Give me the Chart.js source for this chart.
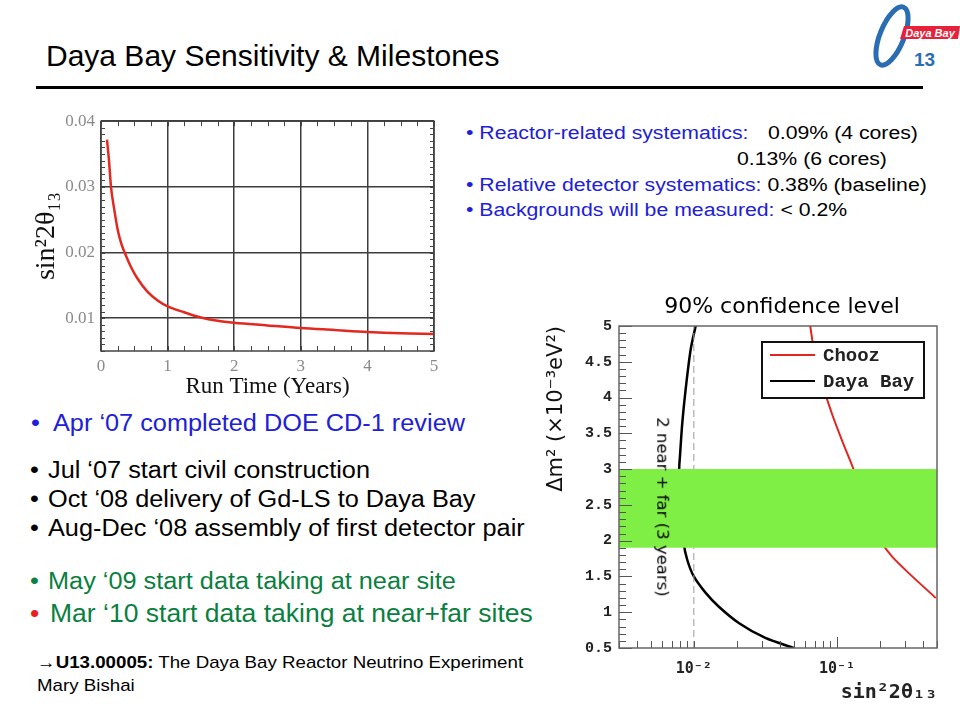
<!DOCTYPE html>
<html>
<head>
<meta charset="utf-8">
<title>Daya Bay Sensitivity &amp; Milestones</title>
<script src="https://cdn.jsdelivr.net/npm/chart.js@4.4.0/dist/chart.umd.min.js"></script>
<style>
  html, body { margin: 0; padding: 0; background: #fff; }
  body { width: 960px; height: 720px; position: relative; overflow: hidden;
         font-family: "Liberation Sans", Arial, sans-serif; color: #000; }
  .t { position: absolute; white-space: nowrap; line-height: 1; transform-origin: 0 0; }
  .sys { font-size: 18px; transform: scaleX(1.18); }
  .ms  { font-size: 23px; transform: scaleX(1.1); }
  .ms-big { font-size: 26px; transform: scaleX(1.02); }
  .ref { font-size: 17px; transform: scaleX(1.1); }
  .blue { color: #2020d8; }
  .green { color: #0a7f3f; }
  .rule { position: absolute; left: 36px; top: 86px; width: 887px; height: 3px; background: #000; }
  .box { position: absolute; }
  #cl-title { font-family: "DejaVu Sans", sans-serif; font-size: 22px; }
  #dyb-note { font-family: "DejaVu Sans", sans-serif; font-size: 16.5px; transform-origin: 50% 50%; }
</style>
</head>
<body>

<!-- title and rule -->
<div class="t" style="left:46px; top:41px; font-size:30px;">Daya Bay Sensitivity &amp; Milestones</div>
<div class="rule"></div>

<!-- logo -->
<svg class="box" style="left:860px; top:0px;" width="100" height="90" viewBox="0 0 100 90">
  <ellipse cx="32" cy="36" rx="12" ry="31" transform="rotate(22 32 36)" fill="none" stroke="#2a6db3" stroke-width="5"/>
  <polygon points="44,26 100,26 98,39 40,39" fill="#e8213a"/>
  <text x="70" y="36.5" text-anchor="middle" font-family="Liberation Sans" font-style="italic" font-weight="bold" font-size="11" fill="#fff">Daya Bay</text>
  <text x="54" y="66" font-family="Liberation Sans" font-weight="bold" font-size="19" fill="#2a6db3">13</text>
</svg>

<!-- systematics text -->
<div class="t sys blue" style="left:466px; top:124px;">• Reactor-related systematics:</div>
<div class="t sys" style="left:768px; top:124px;">0.09% (4 cores)</div>
<div class="t sys" style="left:737px; top:150px;">0.13% (6 cores)</div>
<div class="t sys" style="left:466px; top:176px;"><span class="blue">• Relative detector systematics:</span> 0.38% (baseline)</div>
<div class="t sys" style="left:466px; top:201px;"><span class="blue">• Backgrounds will be measured:</span> &lt; 0.2%</div>

<!-- milestones -->
<div class="t ms blue" style="left:31px; top:412px;">•</div>
<div class="t ms blue" style="left:53px; top:412px;">Apr ‘07 completed DOE CD-1 review</div>
<div class="t ms" style="left:30px; top:459px;">•</div>
<div class="t ms" style="left:48px; top:459px;">Jul ‘07 start civil construction</div>
<div class="t ms" style="left:30px; top:488px;">•</div>
<div class="t ms" style="left:48px; top:488px;">Oct ‘08 delivery of Gd-LS to Daya Bay</div>
<div class="t ms" style="left:30px; top:517px;">•</div>
<div class="t ms" style="left:48px; top:517px;">Aug-Dec ‘08 assembly of first detector pair</div>
<div class="t ms green" style="left:30px; top:570px;">•</div>
<div class="t ms green" style="left:48px; top:570px;">May ‘09 start data taking at near site</div>
<div class="t ms-big" style="left:30px; top:600px; color:#e82020;">•</div>
<div class="t ms-big green" style="left:50px; top:600px;">Mar ‘10 start data taking at near+far sites</div>

<div class="t ref" style="left:37px; top:654px;">→<b>U13.00005:</b> The Daya Bay Reactor Neutrino Experiment</div>
<div class="t ref" style="left:37px; top:677px;">Mary Bishai</div>

<!-- charts -->
<div class="box" style="left:20px; top:105px; width:425px; height:300px;">
  <canvas id="sensChart" width="425" height="300"></canvas>
</div>
<div class="box" style="left:540px; top:290px; width:420px; height:430px;">
  <canvas id="exclChart" width="420" height="430"></canvas>
</div>
<div class="t" id="cl-title" style="left:782px; top:306px; transform:translate(-50%,-50%);">90% confidence level</div>
<div class="t" id="dyb-note" style="left:662px; top:507px; transform:translate(-50%,-50%) rotate(90deg);">2 near + far (3 years)</div>

<script>
/**
 * Daya Bay sensitivity slide
 * left: sin^2(2theta13) reach vs run time, right: 90% CL exclusion contours
 */

// sensitivity vs run time
const runYears  = [0.09, 0.12, 0.15, 0.2, 0.25, 0.3, 0.355, 0.45, 0.55, 0.7, 0.85, 1.0, 1.25, 1.5, 1.75, 2.0, 2.5, 3.0, 3.5, 4.0, 4.5, 5.0];
const sensLimit = [0.0372, 0.034, 0.030, 0.0265, 0.0235, 0.0215, 0.020, 0.0178, 0.0160, 0.0140, 0.0127, 0.0118, 0.0109, 0.0101, 0.0096, 0.0093, 0.0089, 0.0085, 0.0082, 0.0079, 0.0077, 0.0076];
const runTicks  = [0, 1, 2, 3, 4, 5];
const sensTicks = [0.01, 0.02, 0.03, 0.04];

// 90% CL contours (sin^2 2theta13 , dm^2 in 1e-3 eV^2)
const dybSin2   = [0.0103, 0.0095, 0.00875, 0.0083, 0.0080, 0.0079, 0.0082, 0.0085, 0.0090, 0.0100, 0.0121, 0.0149, 0.0206, 0.0316, 0.050];
const dybDm2    = [5.0, 4.67, 4.10, 3.64, 3.18, 2.99, 2.48, 1.97, 1.73, 1.50, 1.27, 1.08, 0.85, 0.64, 0.50];
const choozSin2 = [0.065, 0.0725, 0.092, 0.108, 0.131, 0.149, 0.171, 0.206, 0.242, 0.316, 0.49];
const choozDm2  = [5.0, 4.43, 3.78, 3.41, 2.99, 2.62, 2.29, 1.97, 1.78, 1.55, 1.20];
const seriesLabels = ['Chooz', 'Daya Bay'];
const dm2Band   = [1.9, 3.0];          // allowed dm^2 region (green)
const refSin2   = 0.01;                // dashed guide line
const dm2Ticks  = [0.5, 1, 1.5, 2, 2.5, 3, 3.5, 4, 4.5, 5];
const sinTicks  = [0.003, 0.004, 0.005, 0.006, 0.007, 0.008, 0.009, 0.01, 0.02, 0.03, 0.04, 0.05, 0.06, 0.07, 0.08, 0.09, 0.1, 0.2, 0.3, 0.4, 0.5];
const sinLabels = { 0.01: '10⁻²', 0.1: '10⁻¹' };

const SIN_MIN = 0.003, SIN_MAX = 0.5;

// small helper: pair two arrays into {x,y} points
function toPoints(xs, ys) {
    return xs.map((x, i) => ({ x: x, y: ys[i] }));
}

// list of values between a and b with given step (for minor tick marks)
function stepList(a, b, step) {
    const out = [];
    for (let v = a; v <= b + 1e-9; v += step) out.push(+v.toFixed(6));
    return out;
}

/**
 * draws the inward tick marks and the frame round the plot area
 */
const innerTicksPlugin = {
    id: 'innerTicks',
    afterDatasetsDraw(chart, args, opts) {
        const { ctx, chartArea: a, scales } = chart;
        ctx.save();
        ctx.strokeStyle = opts.color;
        ctx.lineWidth = opts.width;
        ctx.beginPath();
        (opts.x || []).forEach(set => set.values.forEach(v => {
            const px = Math.round(scales.x.getPixelForValue(v)) + 0.5;
            ctx.moveTo(px, a.bottom);
            ctx.lineTo(px, a.bottom - set.len);
            if (opts.mirror) {
                ctx.moveTo(px, a.top);
                ctx.lineTo(px, a.top + set.len);
            }
        }));
        (opts.y || []).forEach(set => set.values.forEach(v => {
            const py = Math.round(scales.y.getPixelForValue(v)) + 0.5;
            ctx.moveTo(a.left, py);
            ctx.lineTo(a.left + set.len, py);
            if (opts.mirror) {
                ctx.moveTo(a.right, py);
                ctx.lineTo(a.right - set.len, py);
            }
        }));
        ctx.stroke();
        ctx.strokeStyle = opts.frameColor;
        ctx.lineWidth = opts.frameWidth;
        ctx.strokeRect(a.left, a.top, a.right - a.left, a.bottom - a.top);
        ctx.restore();
    }
};

/**
 * boxed legend inside the plot area (top right)
 */
const boxLegendPlugin = {
    id: 'boxLegend',
    afterDatasetsDraw(chart, args, opts) {
        const { ctx, chartArea: a } = chart;
        const x0 = a.right - opts.right - opts.width;
        const y0 = a.top + opts.top;
        ctx.save();
        ctx.fillStyle = '#fff';
        ctx.fillRect(x0, y0, opts.width, opts.height);
        ctx.strokeStyle = '#111';
        ctx.lineWidth = 2;
        ctx.strokeRect(x0, y0, opts.width, opts.height);
        const items = chart.data.datasets.filter(d => d.inLegend);
        items.forEach((d, i) => {
            const y = y0 + opts.rowTop + i * opts.rowGap;
            ctx.strokeStyle = d.borderColor;
            ctx.lineWidth = 2;
            ctx.beginPath();
            ctx.moveTo(x0 + 8, y);
            ctx.lineTo(x0 + 53, y);
            ctx.stroke();
            ctx.fillStyle = '#222';
            ctx.font = 'bold 19px "Liberation Mono", "DejaVu Sans Mono", monospace';
            ctx.textBaseline = 'middle';
            ctx.fillText(d.label, x0 + 61, y + 1);
        });
        ctx.restore();
    }
};

/**
 * left chart: sensitivity vs run time
 */
function initSensitivityChart() {
    const ctx = document.getElementById('sensChart');
    const serif = '"Liberation Serif", "Times New Roman", serif';

    new Chart(ctx, {
        type: 'line',
        data: {
            datasets: [{
                data: toPoints(runYears, sensLimit),
                borderColor: '#e3281f',
                borderWidth: 2.5,
                pointRadius: 0,
                cubicInterpolationMode: 'monotone',
                fill: false
            }]
        },
        options: {
            responsive: false,
            animation: false,
            layout: { padding: { top: 12, right: 11, left: 0, bottom: 0 } },
            plugins: {
                legend: { display: false },
                tooltip: { enabled: false },
                innerTicks: {
                    color: '#444', width: 1, mirror: true,
                    frameColor: '#444', frameWidth: 1.5,
                    x: [{ values: stepList(0, 5, 0.25), len: 5 }],
                    y: [{ values: stepList(0.005, 0.04, 0.001), len: 4 }]
                }
            },
            scales: {
                x: {
                    type: 'linear', min: 0, max: 5,
                    afterBuildTicks: s => { s.ticks = runTicks.map(v => ({ value: v })); },
                    afterFit: s => { s.height = 54; },
                    grid: { color: '#3c3c3c', lineWidth: 1.5, drawTicks: false },
                    border: { display: false },
                    ticks: { color: '#8a8a8a', padding: 5, font: { family: serif, size: 17 } },
                    title: {
                        display: true, text: 'Run Time (Years)', color: '#111',
                        padding: { top: 0, bottom: 4 },
                        font: { family: serif, size: 23 }
                    }
                },
                y: {
                    type: 'linear', min: 0.005, max: 0.04,
                    afterBuildTicks: s => { s.ticks = sensTicks.map(v => ({ value: v })); },
                    afterFit: s => { s.width = 81; },
                    grid: { color: '#3c3c3c', lineWidth: 1.5, drawTicks: false },
                    border: { display: false },
                    ticks: {
                        color: '#8a8a8a', padding: 6,
                        font: { family: serif, size: 17 },
                        callback: v => v.toFixed(2)
                    },
                    title: {
                        display: true, text: 'sin²2θ₁₃', color: '#111',
                        padding: { top: 10, bottom: 0 },
                        font: { family: serif, size: 28 }
                    }
                }
            }
        },
        plugins: [innerTicksPlugin]
    });
}

/**
 * right chart: 90% CL exclusion contours
 */
function initExclusionChart() {
    const ctx = document.getElementById('exclChart');
    const mono = '"Liberation Mono", "DejaVu Sans Mono", monospace';

    new Chart(ctx, {
        type: 'line',
        data: {
            datasets: [
                {   // green band top edge, filled down to the next dataset
                    data: toPoints([SIN_MIN, SIN_MAX], [dm2Band[1], dm2Band[1]]),
                    borderWidth: 0, pointRadius: 0,
                    backgroundColor: '#80ef45', fill: '+1'
                },
                {
                    data: toPoints([SIN_MIN, SIN_MAX], [dm2Band[0], dm2Band[0]]),
                    borderWidth: 0, pointRadius: 0, fill: false
                },
                {   // dashed guide at sin^2 = 0.01
                    data: toPoints([refSin2, refSin2], [0.5, 5]),
                    borderColor: '#9a9a9a', borderWidth: 1, borderDash: [7, 4],
                    pointRadius: 0, fill: false
                },
                {
                    label: seriesLabels[0], inLegend: true,
                    data: toPoints(choozSin2, choozDm2),
                    borderColor: '#e0261e', borderWidth: 2,
                    pointRadius: 0, tension: 0.25, fill: false
                },
                {
                    label: seriesLabels[1], inLegend: true,
                    data: toPoints(dybSin2, dybDm2),
                    borderColor: '#000', borderWidth: 2.5,
                    pointRadius: 0, tension: 0.3, fill: false
                }
            ]
        },
        options: {
            responsive: false,
            animation: false,
            layout: { padding: { top: 36, right: 23, left: 0, bottom: 0 } },
            plugins: {
                legend: { display: false },
                tooltip: { enabled: false },
                innerTicks: {
                    color: '#555', width: 1, mirror: false,
                    frameColor: '#666', frameWidth: 1.5,
                    x: [{ values: sinTicks, len: 7 }, { values: [0.1], len: 11 }],
                    y: [{ values: stepList(0.5, 5, 0.1), len: 7 }, { values: dm2Ticks, len: 13 }]
                },
                boxLegend: { right: 13, top: 16, width: 162, height: 56, rowTop: 13, rowGap: 26 }
            },
            scales: {
                x: {
                    type: 'logarithmic', min: SIN_MIN, max: SIN_MAX,
                    afterBuildTicks: s => { s.ticks = sinTicks.map(v => ({ value: v })); },
                    afterFit: s => { s.height = 72; },
                    grid: { display: false, drawTicks: false },
                    border: { display: false },
                    ticks: {
                        color: '#222', padding: 12, autoSkip: false, maxRotation: 0,
                        font: { family: '"DejaVu Sans Mono", monospace', size: 15, weight: 'bold' },
                        callback: v => sinLabels[v] || ''
                    },
                    title: {
                        display: true, text: 'sin²2θ₁₃', align: 'end', color: '#222',
                        padding: { top: 0, bottom: 15 },
                        font: { family: '"DejaVu Sans Mono", monospace', size: 20, weight: 'bold' }
                    }
                },
                y: {
                    type: 'linear', min: 0.5, max: 5,
                    afterBuildTicks: s => { s.ticks = dm2Ticks.map(v => ({ value: v })); },
                    afterFit: s => { s.width = 79; },
                    grid: { display: false, drawTicks: false },
                    border: { display: false },
                    ticks: {
                        color: '#222', padding: 7,
                        font: { family: mono, size: 15, weight: 'bold' },
                        callback: v => String(v)
                    },
                    title: {
                        display: true, text: 'Δm² (×10⁻³eV²)', align: 'end', color: '#111',
                        padding: { top: 4, bottom: 0 },
                        font: { family: '"DejaVu Sans", sans-serif', size: 21 }
                    }
                }
            }
        },
        plugins: [innerTicksPlugin, boxLegendPlugin]
    });
}

document.addEventListener('DOMContentLoaded', () => {
    initSensitivityChart();
    initExclusionChart();
});
</script>
</body>
</html>
